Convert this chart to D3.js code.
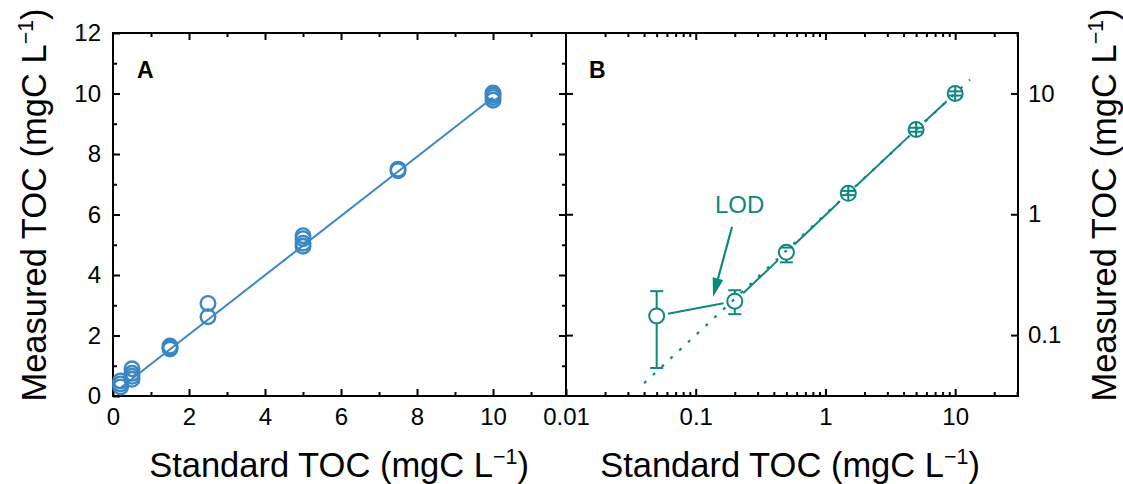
<!DOCTYPE html>
<html><head><meta charset="utf-8">
<script src="https://cdn.jsdelivr.net/npm/d3@7"></script>
<style>
body{margin:0;background:#fff;}
text{font-family:"Liberation Sans",Arial,sans-serif;}
</style></head>
<body><svg id="c" width="1123" height="484"></svg>
<script>
// ---- Panel A data ----
const aX = [0.2,0.2,0.2,0.5,0.5,0.5,0.5,1.5,1.5,1.5,2.5,2.5,5,5,5,5,7.5,7.5,10,10,10,10];
const aY = [0.30,0.40,0.50,0.55,0.65,0.75,0.90,1.55,1.60,1.65,2.62,3.06,4.95,5.05,5.20,5.30,7.45,7.50,9.78,9.87,9.95,10.02];
const fitX = [0.2, 10];
const fitY = [0.27, 9.87];
const aXTicks = [0,2,4,6,8,10];
const aYTicks = [0,2,4,6,8,10,12];
// ---- Panel B data ----
const bX  = [0.05, 0.2, 0.5, 1.5, 5, 10];
const bY  = [0.144, 0.191, 0.485, 1.49, 5.03, 10.0];
const bLo = [0.0534, 0.149, 0.40, 1.44, 4.82, 9.6];
const bHi = [0.231, 0.235, 0.53, 1.56, 5.20, 10.4];
const refX = [0.04, 13];   // 1:1 dotted line
const bXTicks = [0.01, 0.1, 1, 10];
const bXTickLabels = ["0.01","0.1","1","10"];
const bYTicks = [0.1, 1, 10];
const bYTickLabels = ["0.1","1","10"];
const lodText = "LOD";

const blue = "#3a87c4", teal = "#0f8781";
const svg = d3.select("#c");
const yTop = 33, yBot = 396;
const A = {l:113, r:566}, B = {l:566, r:1018};

const xA = d3.scaleLinear().domain([0, 11.92]).range([A.l, A.r]);
const yA = d3.scaleLinear().domain([0, 12]).range([yBot, yTop]);
const xB = d3.scaleLog().domain([0.01, 30.5]).range([B.l, B.r]);
const yB = d3.scaleLog().domain([Math.pow(10,-1.504), Math.pow(10,1.5)]).range([yBot, yTop]);

const tickFont = 24;
function styleAxis(g){
  g.select(".domain").remove();
  g.selectAll(".tick line").attr("stroke","#000").attr("stroke-width",2);
  g.selectAll("text").attr("font-size",tickFont).attr("fill","#000").attr("font-family","Liberation Sans, Arial, sans-serif");
}
// Panel A axes
const aMinorX = d3.range(1,12,2), aMinorY = d3.range(1,12,2);
svg.append("g").attr("transform",`translate(0,${yBot})`)
  .call(d3.axisBottom(xA).tickValues(aXTicks).tickSize(-7).tickPadding(12).tickFormat(d3.format("d"))).call(styleAxis);
svg.append("g").attr("transform",`translate(0,${yBot})`)
  .call(d3.axisBottom(xA).tickValues(aMinorX).tickSize(-4).tickFormat("")).call(styleAxis);
svg.append("g").attr("transform",`translate(0,${yTop})`)
  .call(d3.axisTop(xA).tickValues(aXTicks.filter(d=>d>0)).tickSize(-7).tickFormat("")).call(styleAxis);
svg.append("g").attr("transform",`translate(0,${yTop})`)
  .call(d3.axisTop(xA).tickValues(aMinorX).tickSize(-4).tickFormat("")).call(styleAxis);
svg.append("g").attr("transform",`translate(${A.l},0)`)
  .call(d3.axisLeft(yA).tickValues(aYTicks).tickSize(-7).tickPadding(12).tickFormat(d3.format("d"))).call(styleAxis);
svg.append("g").attr("transform",`translate(${A.l},0)`)
  .call(d3.axisLeft(yA).tickValues(aMinorY).tickSize(-4).tickFormat("")).call(styleAxis);
svg.append("g").attr("transform",`translate(${A.r},0)`)
  .call(d3.axisRight(yA).tickValues(aYTicks.filter(d=>d>0&&d<12)).tickSize(-7).tickFormat("")).call(styleAxis);
svg.append("g").attr("transform",`translate(${A.r},0)`)
  .call(d3.axisRight(yA).tickValues(aMinorY).tickSize(-4).tickFormat("")).call(styleAxis);

// Panel B axes
const bMinorX = [];
[0.01,0.1,1,10].forEach(dec=>{ for(let k=2;k<=9;k++){ const v=k*dec; if(v<=30.5) bMinorX.push(v);} });
svg.append("g").attr("transform",`translate(0,${yBot})`)
  .call(d3.axisBottom(xB).tickValues(bXTicks).tickSize(-7).tickPadding(12).tickFormat((d,i)=>bXTickLabels[i])).call(styleAxis);
svg.append("g").attr("transform",`translate(0,${yBot})`)
  .call(d3.axisBottom(xB).tickValues(bMinorX).tickSize(-4).tickFormat("")).call(styleAxis);
svg.append("g").attr("transform",`translate(0,${yTop})`)
  .call(d3.axisTop(xB).tickValues(bXTicks.slice(1)).tickSize(-7).tickFormat("")).call(styleAxis);
svg.append("g").attr("transform",`translate(0,${yTop})`)
  .call(d3.axisTop(xB).tickValues(bMinorX).tickSize(-4).tickFormat("")).call(styleAxis);
svg.append("g").attr("transform",`translate(${B.l},0)`)
  .call(d3.axisLeft(yB).tickValues(bYTicks).tickSize(-7).tickFormat("")).call(styleAxis);
svg.append("g").attr("transform",`translate(${B.r},0)`)
  .call(d3.axisRight(yB).tickValues(bYTicks).tickSize(-7).tickPadding(10).tickFormat((d,i)=>bYTickLabels[i])).call(styleAxis);

// frames
svg.append("rect").attr("x",A.l).attr("y",yTop).attr("width",B.r-A.l).attr("height",yBot-yTop)
  .attr("fill","none").attr("stroke","#000").attr("stroke-width",2);
svg.append("line").attr("x1",A.r).attr("x2",A.r).attr("y1",yTop).attr("y2",yBot).attr("stroke","#000").attr("stroke-width",2);

// ---- Panel A marks ----
svg.append("line").attr("x1",xA(fitX[0])).attr("y1",yA(fitY[0])).attr("x2",xA(fitX[1])).attr("y2",yA(fitY[1]))
  .attr("stroke",blue).attr("stroke-width",2);
svg.append("g").selectAll("circle").data(aX.map((x,i)=>[x,aY[i]])).join("circle")
  .attr("cx",d=>xA(d[0])).attr("cy",d=>yA(d[1])).attr("r",7.3)
  .attr("fill","none").attr("stroke",blue).attr("stroke-width",2.4);

// ---- Panel B marks ----
const R = 7.5;
svg.append("line").attr("x1",xB(refX[0])).attr("y1",yB(refX[0])).attr("x2",xB(refX[1])).attr("y2",yB(refX[1]))
  .attr("stroke",teal).attr("stroke-width",2.2).attr("stroke-dasharray","3,9");
const gB = svg.append("g").attr("stroke",teal).attr("stroke-width",2).attr("fill","none");
for(let i=0;i<bX.length-1;i++){
  const x1=xB(bX[i]), y1=yB(bY[i]), x2=xB(bX[i+1]), y2=yB(bY[i+1]);
  const L=Math.hypot(x2-x1,y2-y1), ux=(x2-x1)/L, uy=(y2-y1)/L, g=R+4;
  gB.append("line").attr("x1",x1+ux*g).attr("y1",y1+uy*g).attr("x2",x2-ux*g).attr("y2",y2-uy*g);
}
bX.forEach((x,i)=>{
  const cx=xB(x), cy=yB(bY[i]), yh=yB(bHi[i]), yl=yB(bLo[i]);
  gB.append("circle").attr("cx",cx).attr("cy",cy).attr("r",R);
  const hiOut = yh < cy-R, loOut = yl > cy+R;
  if(hiOut) gB.append("line").attr("x1",cx).attr("x2",cx).attr("y1",yh).attr("y2",cy-R);
  if(loOut) gB.append("line").attr("x1",cx).attr("x2",cx).attr("y1",cy+R).attr("y2",yl);
  if(!hiOut && !loOut) gB.append("line").attr("x1",cx).attr("x2",cx).attr("y1",cy-R).attr("y2",cy+R);
  [[yh,hiOut],[yl,loOut]].forEach(([yy,out])=>{
    const w = out ? 6.5 : Math.sqrt(Math.max(R*R-(yy-cy)*(yy-cy),0));
    gB.append("line").attr("x1",cx-w).attr("x2",cx+w).attr("y1",yy).attr("y2",yy);
  });
});
// LOD annotation
svg.append("text").attr("x",715).attr("y",213).attr("font-size",24).attr("fill",teal).text(lodText);
const ax1=732, ay1=227, ax2=713, ay2=297;
const aL=Math.hypot(ax2-ax1,ay2-ay1), aux=(ax2-ax1)/aL, auy=(ay2-ay1)/aL, hl=19, hw=5.5;
svg.append("line").attr("x1",ax1).attr("y1",ay1).attr("x2",ax2-aux*hl).attr("y2",ay2-auy*hl)
  .attr("stroke",teal).attr("stroke-width",2.2);
svg.append("path").attr("fill",teal).attr("d",
  `M${ax2},${ay2}L${ax2-aux*hl-auy*hw},${ay2-auy*hl+aux*hw}L${ax2-aux*hl+auy*hw},${ay2-auy*hl-aux*hw}Z`);

// panel letters
svg.append("text").attr("x",137).attr("y",78).attr("font-size",23).attr("font-weight","bold").text("A");
svg.append("text").attr("x",589).attr("y",78).attr("font-size",23).attr("font-weight","bold").text("B");

// axis titles
function title(sel, main){
  sel.append("tspan").text(main);
  sel.append("tspan").attr("font-size","0.62em").attr("dy","-0.6em").text("−1");
  sel.append("tspan").attr("dy","0.37em").text(")");
}
const fs=34.5;
title(svg.append("text").attr("x",339).attr("y",477).attr("text-anchor","middle").attr("font-size",fs),"Standard TOC (mgC L");
title(svg.append("text").attr("x",790).attr("y",477).attr("text-anchor","middle").attr("font-size",fs),"Standard TOC (mgC L");
title(svg.append("text").attr("transform",`translate(46,205) rotate(-90)`).attr("text-anchor","middle").attr("font-size",fs),"Measured TOC (mgC L");
title(svg.append("text").attr("transform",`translate(1116,205) rotate(-90)`).attr("text-anchor","middle").attr("font-size",fs),"Measured TOC (mgC L");
</script></body></html>
